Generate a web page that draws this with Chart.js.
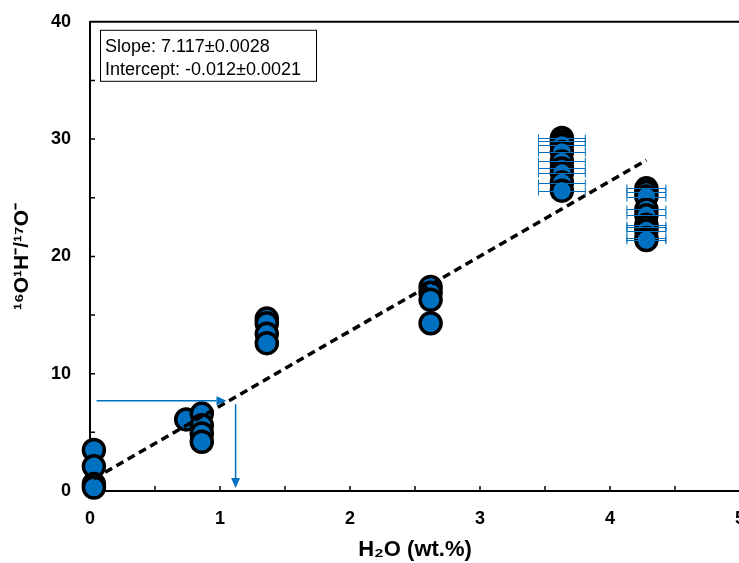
<!DOCTYPE html>
<html>
<head>
    <script src="https://cdn.jsdelivr.net/npm/chart.js"></script>
    <style>
        body { margin: 0; background: white; overflow: hidden; }
        .wrap { position: relative; width: 760px; height: 563px; }
    </style>
</head>
<body>
    <div class="wrap"><canvas id="myChart"></canvas></div>
    <script>
        // measured points: H2O (wt.%) vs 16O1H-/17O- ratio
        const h2o = [0.03, 0.03, 0.03, 0.03,
            0.74,
            0.86, 0.86, 0.86, 0.86,
            1.36, 1.36, 1.36, 1.36,
            2.62, 2.62, 2.62, 2.62,
            3.63, 3.63, 3.63, 3.63, 3.63, 3.63, 3.63, 3.63, 3.63,
            4.28, 4.28, 4.28, 4.28, 4.28, 4.28, 4.28, 4.28, 4.28, 4.28];
        const ratio = [3.5, 2.1, 0.6, 0.3,
            6.1,
            6.6, 5.6, 4.9, 4.2,
            14.7, 14.3, 13.4, 12.6,
            17.4, 16.9, 16.3, 14.3,
            30.1, 29.8, 29.5, 28.9, 28.1, 27.5, 27.1, 26.3, 25.6,
            25.8, 25.5, 25.1, 24.0, 23.5, 22.7, 22.5, 22.2, 21.6, 21.4];
        const h2oErr = [0, 0, 0, 0,
            0,
            0, 0, 0, 0,
            0, 0, 0, 0,
            0, 0, 0, 0,
            0.18, 0.18, 0.18, 0.18, 0.18, 0.18, 0.18, 0.18, 0.18,
            0.15, 0.15, 0.15, 0.15, 0.15, 0.15, 0.15, 0.15, 0.15, 0.15];

        // fitted line end points
        const fitX = [0.03, 4.28];
        const fitY = [1.05, 28.2];

        // arrows [x1, y1, x2, y2]
        const arrows = [
            [0.05, 7.7, 1.05, 7.7],
            [1.12, 7.4, 1.12, 0.25]
        ];

        const fitText = ['Slope: 7.117\u00b10.0028', 'Intercept: -0.012\u00b10.0021'];

        const blue = '#0070C0';
        const tickFont = { family: 'Liberation Sans', size: 18, weight: 'bold' };

        const extras = {
            id: 'extras',
            afterDatasetDraw(chart, args) {
                if (args.index !== 0) return;
                const ctx = chart.ctx, xs = chart.scales.x, ys = chart.scales.y;
                ctx.save();
                ctx.strokeStyle = blue;
                ctx.lineWidth = 1;
                h2o.forEach((x, i) => {
                    if (!h2oErr[i]) return;
                    const y = Math.round(ys.getPixelForValue(ratio[i])) + 0.5;
                    const x1 = xs.getPixelForValue(x - h2oErr[i]);
                    const x2 = xs.getPixelForValue(x + h2oErr[i]);
                    ctx.beginPath();
                    ctx.moveTo(x1, y); ctx.lineTo(x2, y);
                    ctx.moveTo(x1, y - 4); ctx.lineTo(x1, y + 4);
                    ctx.moveTo(x2, y - 4); ctx.lineTo(x2, y + 4);
                    ctx.stroke();
                });
                ctx.restore();
            },
            afterDatasetsDraw(chart) {
                const ctx = chart.ctx, xs = chart.scales.x, ys = chart.scales.y;
                const a = chart.chartArea;
                ctx.save();
                // frame top and right
                ctx.strokeStyle = 'black';
                ctx.lineWidth = 2;
                ctx.beginPath();
                ctx.moveTo(a.left, a.top); ctx.lineTo(a.right, a.top); ctx.lineTo(a.right, a.bottom);
                ctx.stroke();
                // inward ticks
                ctx.lineWidth = 1.5;
                ctx.beginPath();
                for (let v = 0.5; v < 5; v += 0.5) {
                    const px = xs.getPixelForValue(v);
                    ctx.moveTo(px, a.bottom); ctx.lineTo(px, a.bottom - 5);
                }
                for (let v = 5; v < 40; v += 5) {
                    const py = ys.getPixelForValue(v);
                    ctx.moveTo(a.left, py); ctx.lineTo(a.left + 5, py);
                }
                ctx.stroke();
                // arrows
                ctx.strokeStyle = blue;
                ctx.fillStyle = blue;
                ctx.lineWidth = 1.5;
                arrows.forEach(ar => {
                    const x1 = xs.getPixelForValue(ar[0]), y1 = ys.getPixelForValue(ar[1]);
                    const x2 = xs.getPixelForValue(ar[2]), y2 = ys.getPixelForValue(ar[3]);
                    const ang = Math.atan2(y2 - y1, x2 - x1);
                    const hl = 10, hw = 4.5;
                    const bx = x2 - hl * Math.cos(ang), by = y2 - hl * Math.sin(ang);
                    ctx.beginPath();
                    ctx.moveTo(x1, y1); ctx.lineTo(bx, by);
                    ctx.stroke();
                    ctx.beginPath();
                    ctx.moveTo(x2, y2);
                    ctx.lineTo(bx + hw * Math.sin(ang), by - hw * Math.cos(ang));
                    ctx.lineTo(bx - hw * Math.sin(ang), by + hw * Math.cos(ang));
                    ctx.closePath();
                    ctx.fill();
                });
                // fit text box
                ctx.fillStyle = 'white';
                ctx.fillRect(a.left + 10, a.top + 8, 216, 51);
                ctx.strokeStyle = 'black';
                ctx.lineWidth = 1;
                ctx.strokeRect(a.left + 10.5, a.top + 8.5, 216, 51);
                ctx.fillStyle = 'black';
                ctx.font = '18px "Liberation Sans"';
                ctx.textBaseline = 'alphabetic';
                ctx.fillText(fitText[0], a.left + 15, a.top + 30);
                ctx.fillText(fitText[1], a.left + 15, a.top + 53);
                ctx.restore();
            }
        };

        new Chart('myChart', {
            type: 'scatter',
            data: {
                datasets: [{
                    data: h2o.map((x, i) => ({ x: x, y: ratio[i] })),
                    backgroundColor: blue,
                    borderColor: 'black',
                    borderWidth: 3.5,
                    pointRadius: 10.5,
                    clip: false,
                    order: 1
                }, {
                    type: 'line',
                    data: fitX.map((x, i) => ({ x: x, y: fitY[i] })),
                    borderColor: 'black',
                    borderWidth: 3.5,
                    borderDash: [8, 5],
                    pointRadius: 0,
                    fill: false,
                    order: 0
                }]
            },
            options: {
                responsive: true,
                maintainAspectRatio: false,
                animation: false,
                layout: { padding: { top: 11, right: 20, left: 0, bottom: 0 } },
                plugins: {
                    legend: { display: false },
                    tooltip: { enabled: false }
                },
                scales: {
                    x: {
                        type: 'linear',
                        min: 0, max: 5,
                        afterFit(s) { s.height = 72; },
                        grid: { display: false },
                        border: { display: true, color: 'black', width: 2 },
                        ticks: { stepSize: 1, color: 'black', font: tickFont, padding: 9 },
                        title: {
                            display: true,
                            text: 'H\u2082O (wt.%)',
                            color: 'black',
                            font: { family: 'Liberation Sans', size: 22, weight: 'bold' },
                            padding: { top: 0, bottom: 0 }
                        }
                    },
                    y: {
                        min: 0, max: 40,
                        afterFit(s) { s.width = 90; },
                        grid: { display: false },
                        border: { display: true, color: 'black', width: 2 },
                        ticks: { stepSize: 10, color: 'black', font: tickFont, padding: 11 },
                        title: {
                            display: true,
                            text: '\u00b9\u2076O\u00b9H\u207b/\u00b9\u2077O\u207b',
                            color: 'black',
                            font: { family: 'Liberation Sans', size: 21, weight: 'bold' },
                            padding: { top: 10, bottom: 0 }
                        }
                    }
                }
            },
            plugins: [extras]
        });
    </script>
</body>
</html>
